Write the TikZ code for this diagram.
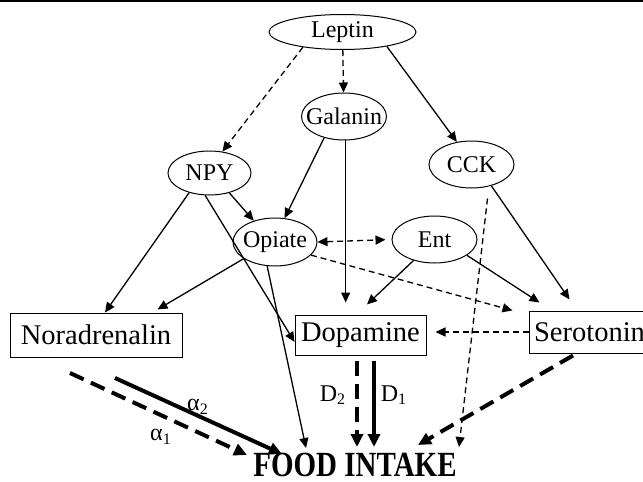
\documentclass[tikz,border=0pt]{standalone}
\usepackage{fontspec}
\setmainfont{Liberation Serif}
\usepackage{graphicx}
\usetikzlibrary{shapes.geometric,arrows.meta}
\begin{document}
\begin{tikzpicture}[x=0.5pt,y=-0.5pt,>={Triangle[length=5pt,width=4.5pt]}]
\tikzstyle{every node}+=[inner sep=0pt]
\tikzstyle{hormone}=[draw,ellipse,line width=0.5pt,inner xsep=-4pt,font=\fontsize{12}{14}\selectfont,minimum width=42.5pt,minimum height=23.5pt]
\tikzstyle{transmitter}=[draw,rectangle,line width=0.5pt,font=\fontsize{14.25}{16}\selectfont]
\tikzstyle{thinarrow}=[line width=0.65pt,->]
\tikzstyle{thindash}=[thinarrow,dash pattern=on 3pt off 2pt]
\tikzstyle{thickarrow}=[line width=2pt,-{Triangle[length=6.5pt,width=6pt]}]
\tikzstyle{thickdash}=[thickarrow,dash pattern=on 7.5pt off 4pt]
\tikzstyle{sublabel}=[font=\fontsize{12}{14}\selectfont]
\useasboundingbox (0,0) rectangle (643,482);
\draw [line width=1.2pt] (0,1) -- (643,1);
\node [hormone,minimum width=73.5pt,minimum height=17.5pt] (leptin) at (342.5,32) {Leptin};
\node [hormone] (galanin) at (344,116.5) {Galanin};
\node [hormone,minimum width=41.5pt,minimum height=22pt] (npy) at (209.5,173) {NPY};
\node [hormone] (cck) at (471.5,164.5) {CCK};
\node [hormone,minimum width=42pt,minimum height=24pt] (opiate) at (275,242) {Opiate};
\node [hormone] (ent) at (434.5,239.5) {Ent};
\node [transmitter,minimum width=86pt,minimum height=22pt] (nora) at (96,335) {Noradrenalin};
\node [transmitter,minimum width=65.5pt,minimum height=20pt] (dopa) at (360.5,335) {Dopamine};
\node [transmitter,minimum width=60.5pt,minimum height=21pt] (sero) at (589.5,332) {Serotonin};
\node [font=\fontsize{14.5}{16}\bfseries,text height=12pt,text depth=0pt] (food) at (355,464) {\scalebox{1}[1.22]{FOOD INTAKE}};
\node [sublabel] (a2) at (198,407) {α\textsubscript{2}};
\node [sublabel] (a1) at (161,437) {α\textsubscript{1}};
\node [sublabel] (d2) at (333,395) {D\textsubscript{2}};
\node [sublabel] (d1) at (394,395) {D\textsubscript{1}};
\coordinate (na1) at (70,373);
\coordinate (na2) at (115,378);
\coordinate (fa1) at (247,455);
\coordinate (fa2) at (282,454);
\coordinate (fopi) at (306,448);
\coordinate (fd2) at (357,447);
\coordinate (fd1) at (374,447);
\coordinate (fsero) at (418,445);
\coordinate (fcck) at (459,447);
\draw [thindash] (leptin.201) -- (npy.59);
\draw [thindash] (leptin) -- (galanin);
\draw [thinarrow] (leptin.-18) -- (cck.123);
\draw [thinarrow] (galanin.227) -- (opiate.68);
\draw [thinarrow,shorten >=6pt] (galanin.-86) -- (galanin.-86 |- dopa.north);
\draw [thinarrow] (npy.-45) -- (opiate.135);
\draw [thinarrow] (npy.224) -- ([xshift=4.5pt]nora.north);
\draw [thinarrow] (npy.259) -- ([yshift=-3.5pt]dopa.west);
\draw [thinarrow] (opiate.208) -- ([xshift=-12.5pt,yshift=1.5pt]nora.north east);
\draw [thinarrow] (opiate.252) -- (fopi);
\draw [thindash,<->,shorten >=3pt] (opiate.east) -- (ent.west);
\draw [thindash] (opiate.-20) -- ([xshift=-8pt]sero.north west);
\draw [thinarrow] (ent.225) -- ([xshift=3.25pt,yshift=5pt]dopa.north);
\draw [thinarrow] (ent.-26) -- ([xshift=5.5pt,yshift=4pt]sero.north west);
\draw [thinarrow] (cck.-47) -- ([xshift=20.5pt,yshift=5.5pt]sero.north west);
\draw [thindash] ([xshift=8pt,yshift=-5pt]cck.south) -- (fcck);
\draw [thindash,shorten >=4.5pt] (sero.west) -- (sero.west -| dopa.east);
\draw [thickdash] ([xshift=-8.25pt,yshift=-1pt]sero.south) -- (fsero);
\draw [thickdash] (na1) -- (fa1);
\draw [thickarrow] (na2) -- (fa2);
\draw [thickdash] ([xshift=-1.75pt,yshift=-2.5pt]dopa.south) -- (fd2);
\draw [thickarrow] ([xshift=6.75pt,yshift=-2.5pt]dopa.south) -- (fd1);
\end{tikzpicture}
\end{document}
